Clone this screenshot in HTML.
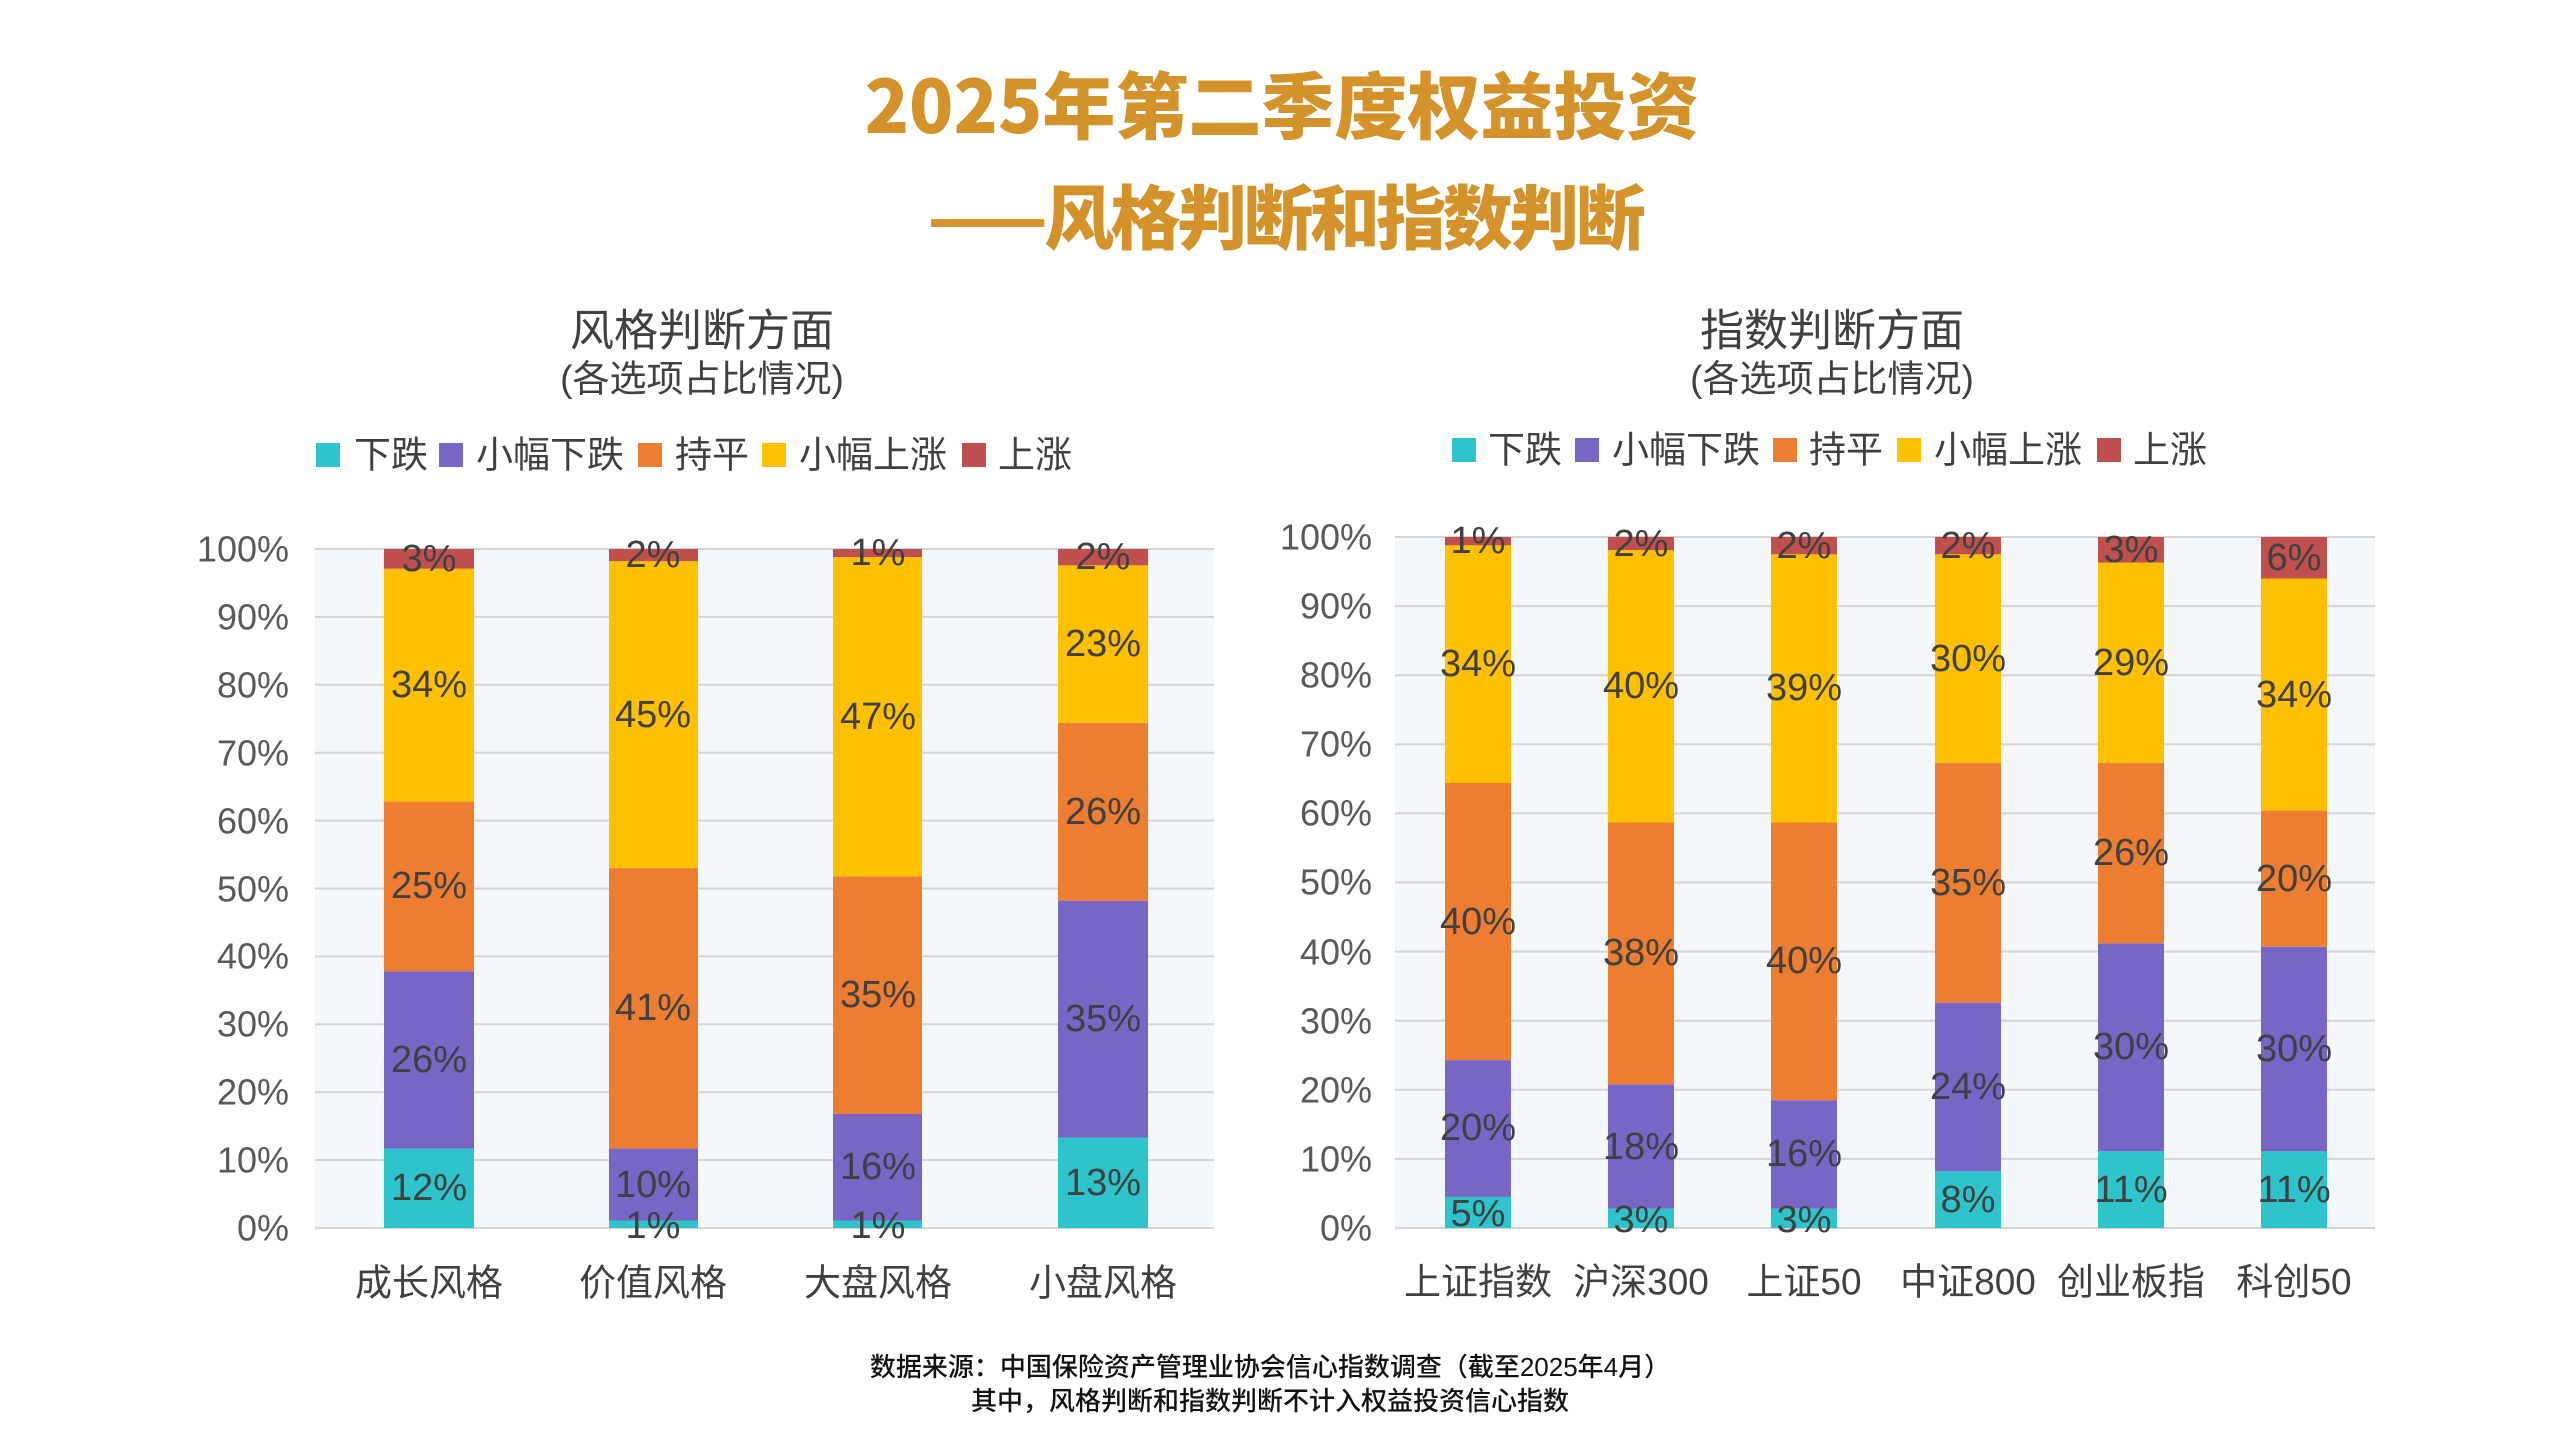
<!DOCTYPE html>
<html><head><meta charset="utf-8"><style>
html,body{margin:0;padding:0;background:#fff;}
svg{display:block;}
text{font-family:"Liberation Sans","Noto Sans CJK SC",sans-serif;}
</style></head><body>
<svg width="2560" height="1440" viewBox="0 0 2560 1440" xmlns="http://www.w3.org/2000/svg">
<rect width="2560" height="1440" fill="#fff"/>
<g fill="#D4922A" font-weight="bold" dominant-baseline="central">
<text x="1282" y="102" font-size="73" text-anchor="middle" style="font-family:'Noto Sans CJK SC',sans-serif;font-weight:900">2025年第二季度权益投资</text>
<text x="924" y="214" font-size="70" text-anchor="start" textLength="718" style="font-family:'Noto Sans CJK SC',sans-serif;font-weight:900">——风格判断和指数判断</text>
</g>
<g fill="#404040" text-anchor="middle" dominant-baseline="central" style="font-family:'Noto Sans CJK SC',sans-serif">
<text x="702" y="331" font-size="44">风格判断方面</text>
<text x="702" y="379" font-size="37">(各选项占比情况)</text>
<text x="1832" y="331" font-size="44">指数判断方面</text>
<text x="1832" y="379" font-size="37">(各选项占比情况)</text>
</g>
<g font-size="37" fill="#404040" dominant-baseline="central" style="font-family:'Noto Sans CJK SC',sans-serif">
<rect x="316" y="443" width="24" height="24" fill="#2EC4CB"/><text x="354" y="455">下跌</text>
<rect x="439" y="443" width="24" height="24" fill="#7866C6"/><text x="476" y="455">小幅下跌</text>
<rect x="638" y="443" width="24" height="24" fill="#ED7D31"/><text x="675" y="455">持平</text>
<rect x="762" y="443" width="24" height="24" fill="#FFC000"/><text x="799" y="455">小幅上涨</text>
<rect x="962" y="443" width="24" height="24" fill="#C0504D"/><text x="998" y="455">上涨</text>
<rect x="1452" y="438" width="24" height="24" fill="#2EC4CB"/><text x="1488" y="450">下跌</text>
<rect x="1575" y="438" width="24" height="24" fill="#7866C6"/><text x="1612" y="450">小幅下跌</text>
<rect x="1773" y="438" width="24" height="24" fill="#ED7D31"/><text x="1809" y="450">持平</text>
<rect x="1897" y="438" width="24" height="24" fill="#FFC000"/><text x="1934" y="450">小幅上涨</text>
<rect x="2097" y="438" width="24" height="24" fill="#C0504D"/><text x="2133" y="450">上涨</text>
</g>
<rect x="315" y="549" width="899" height="679" fill="#F5F8FB"/>
<rect x="1395" y="537" width="980" height="691" fill="#F5F8FB"/>
<g stroke="#D4D4D4" stroke-width="2">
<line x1="315" x2="1214" y1="549" y2="549"/><line x1="315" x2="1214" y1="616.9" y2="616.9"/><line x1="315" x2="1214" y1="684.8" y2="684.8"/><line x1="315" x2="1214" y1="752.7" y2="752.7"/><line x1="315" x2="1214" y1="820.6" y2="820.6"/><line x1="315" x2="1214" y1="888.5" y2="888.5"/><line x1="315" x2="1214" y1="956.4" y2="956.4"/><line x1="315" x2="1214" y1="1024.3" y2="1024.3"/><line x1="315" x2="1214" y1="1092.2" y2="1092.2"/><line x1="315" x2="1214" y1="1160.1" y2="1160.1"/><line x1="315" x2="1214" y1="1228" y2="1228"/>
<line x1="1395" x2="2375" y1="537" y2="537"/><line x1="1395" x2="2375" y1="606.1" y2="606.1"/><line x1="1395" x2="2375" y1="675.2" y2="675.2"/><line x1="1395" x2="2375" y1="744.3" y2="744.3"/><line x1="1395" x2="2375" y1="813.4" y2="813.4"/><line x1="1395" x2="2375" y1="882.5" y2="882.5"/><line x1="1395" x2="2375" y1="951.6" y2="951.6"/><line x1="1395" x2="2375" y1="1020.7" y2="1020.7"/><line x1="1395" x2="2375" y1="1089.8" y2="1089.8"/><line x1="1395" x2="2375" y1="1158.9" y2="1158.9"/><line x1="1395" x2="2375" y1="1228" y2="1228"/>
</g>
<g font-size="36" fill="#595959" text-anchor="end" dominant-baseline="central">
<text x="289" y="549">100%</text><text x="289" y="617">90%</text><text x="289" y="685">80%</text><text x="289" y="753">70%</text><text x="289" y="821">60%</text><text x="289" y="889">50%</text><text x="289" y="956">40%</text><text x="289" y="1024">30%</text><text x="289" y="1092">20%</text><text x="289" y="1160">10%</text><text x="289" y="1228">0%</text>
<text x="1372" y="537">100%</text><text x="1372" y="606">90%</text><text x="1372" y="675">80%</text><text x="1372" y="744">70%</text><text x="1372" y="813">60%</text><text x="1372" y="882">50%</text><text x="1372" y="952">40%</text><text x="1372" y="1021">30%</text><text x="1372" y="1090">20%</text><text x="1372" y="1159">10%</text><text x="1372" y="1228">0%</text>
</g>
<g>
<rect x="384" y="1148.6" width="90" height="79.4" fill="#2EC4CB"/><rect x="384" y="971.3" width="90" height="177.3" fill="#7866C6"/><rect x="384" y="801.6" width="90" height="169.7" fill="#ED7D31"/><rect x="384" y="568.7" width="90" height="232.9" fill="#FFC000"/><rect x="384" y="549" width="90" height="19.7" fill="#C0504D"/>
<rect x="609" y="1220.5" width="89" height="7.5" fill="#2EC4CB"/><rect x="609" y="1148.6" width="89" height="71.9" fill="#7866C6"/><rect x="609" y="868.1" width="89" height="280.5" fill="#ED7D31"/><rect x="609" y="561.2" width="89" height="306.9" fill="#FFC000"/><rect x="609" y="549" width="89" height="12.2" fill="#C0504D"/>
<rect x="833" y="1220.5" width="89" height="7.5" fill="#2EC4CB"/><rect x="833" y="1114" width="89" height="106.5" fill="#7866C6"/><rect x="833" y="876.3" width="89" height="237.7" fill="#ED7D31"/><rect x="833" y="557.1" width="89" height="319.2" fill="#FFC000"/><rect x="833" y="549" width="89" height="8.1" fill="#C0504D"/>
<rect x="1058" y="1137.7" width="90" height="90.3" fill="#2EC4CB"/><rect x="1058" y="900.7" width="90" height="237" fill="#7866C6"/><rect x="1058" y="722.8" width="90" height="177.9" fill="#ED7D31"/><rect x="1058" y="565.3" width="90" height="157.5" fill="#FFC000"/><rect x="1058" y="549" width="90" height="16.3" fill="#C0504D"/>
</g>
<g transform="translate(-4,0)">
<rect x="1449" y="1196.9" width="66" height="31.1" fill="#2EC4CB"/><rect x="1449" y="1060.1" width="66" height="136.8" fill="#7866C6"/><rect x="1449" y="783" width="66" height="277.1" fill="#ED7D31"/><rect x="1449" y="545.3" width="66" height="237.7" fill="#FFC000"/><rect x="1449" y="537" width="66" height="8.3" fill="#C0504D"/>
<rect x="1612" y="1208.7" width="66" height="19.3" fill="#2EC4CB"/><rect x="1612" y="1084.3" width="66" height="124.4" fill="#7866C6"/><rect x="1612" y="822.4" width="66" height="261.9" fill="#ED7D31"/><rect x="1612" y="550.1" width="66" height="272.3" fill="#FFC000"/><rect x="1612" y="537" width="66" height="13.1" fill="#C0504D"/>
<rect x="1775" y="1208.7" width="66" height="19.3" fill="#2EC4CB"/><rect x="1775" y="1100.2" width="66" height="108.5" fill="#7866C6"/><rect x="1775" y="822.4" width="66" height="277.8" fill="#ED7D31"/><rect x="1775" y="554.3" width="66" height="268.1" fill="#FFC000"/><rect x="1775" y="537" width="66" height="17.3" fill="#C0504D"/>
<rect x="1939" y="1171.3" width="66" height="56.7" fill="#2EC4CB"/><rect x="1939" y="1002.7" width="66" height="168.6" fill="#7866C6"/><rect x="1939" y="762.9" width="66" height="239.8" fill="#ED7D31"/><rect x="1939" y="554.3" width="66" height="208.6" fill="#FFC000"/><rect x="1939" y="537" width="66" height="17.3" fill="#C0504D"/>
<rect x="2102" y="1151.3" width="66" height="76.7" fill="#2EC4CB"/><rect x="2102" y="943.3" width="66" height="208" fill="#7866C6"/><rect x="2102" y="762.9" width="66" height="180.4" fill="#ED7D31"/><rect x="2102" y="562.6" width="66" height="200.3" fill="#FFC000"/><rect x="2102" y="537" width="66" height="25.6" fill="#C0504D"/>
<rect x="2265" y="1151.3" width="66" height="76.7" fill="#2EC4CB"/><rect x="2265" y="946.8" width="66" height="204.5" fill="#7866C6"/><rect x="2265" y="810.6" width="66" height="136.2" fill="#ED7D31"/><rect x="2265" y="578.5" width="66" height="232.1" fill="#FFC000"/><rect x="2265" y="537" width="66" height="41.5" fill="#C0504D"/>
</g>
<g font-size="38" fill="#404040" text-anchor="middle" dominant-baseline="central">
<text x="429" y="1188">12%</text><text x="429" y="1060">26%</text><text x="429" y="886">25%</text><text x="429" y="685">34%</text><text x="429" y="559">3%</text>
<text x="653" y="1226">1%</text><text x="653" y="1185">10%</text><text x="653" y="1008">41%</text><text x="653" y="715">45%</text><text x="653" y="555">2%</text>
<text x="878" y="1226">1%</text><text x="878" y="1167">16%</text><text x="878" y="995">35%</text><text x="878" y="717">47%</text><text x="878" y="553">1%</text>
<text x="1103" y="1183">13%</text><text x="1103" y="1019">35%</text><text x="1103" y="812">26%</text><text x="1103" y="644">23%</text><text x="1103" y="557">2%</text>
</g>
<g font-size="38" fill="#404040" text-anchor="middle" dominant-baseline="central" transform="translate(-4,0)">
<text x="1482" y="1214">5%</text><text x="1482" y="1128">20%</text><text x="1482" y="922">40%</text><text x="1482" y="664">34%</text><text x="1482" y="541">1%</text>
<text x="1645" y="1220">3%</text><text x="1645" y="1147">18%</text><text x="1645" y="953">38%</text><text x="1645" y="686">40%</text><text x="1645" y="544">2%</text>
<text x="1808" y="1220">3%</text><text x="1808" y="1154">16%</text><text x="1808" y="961">40%</text><text x="1808" y="688">39%</text><text x="1808" y="546">2%</text>
<text x="1972" y="1200">8%</text><text x="1972" y="1087">24%</text><text x="1972" y="883">35%</text><text x="1972" y="659">30%</text><text x="1972" y="546">2%</text>
<text x="2135" y="1190">11%</text><text x="2135" y="1047">30%</text><text x="2135" y="853">26%</text><text x="2135" y="663">29%</text><text x="2135" y="550">3%</text>
<text x="2298" y="1190">11%</text><text x="2298" y="1049">30%</text><text x="2298" y="879">20%</text><text x="2298" y="695">34%</text><text x="2298" y="558">6%</text>
</g>
<g font-size="37" fill="#404040" text-anchor="middle" dominant-baseline="central" style="font-family:'Noto Sans CJK SC',sans-serif">
<text x="429" y="1283">成长风格</text><text x="653" y="1283">价值风格</text><text x="878" y="1283">大盘风格</text><text x="1103" y="1283">小盘风格</text>
<text x="1478" y="1282">上证指数</text><text x="1641" y="1282">沪深300</text><text x="1804" y="1282">上证50</text><text x="1968" y="1282">中证800</text><text x="2131" y="1282">创业板指</text><text x="2294" y="1282">科创50</text>
</g>
<g font-size="26" fill="#111" text-anchor="middle" dominant-baseline="central" style="font-family:'Noto Sans CJK SC',sans-serif;font-weight:500">
<text x="1270" y="1367">数据来源：中国保险资产管理业协会信心指数调查（截至2025年4月）</text>
<text x="1270" y="1401">其中，风格判断和指数判断不计入权益投资信心指数</text>
</g>
</svg>
</body></html>
